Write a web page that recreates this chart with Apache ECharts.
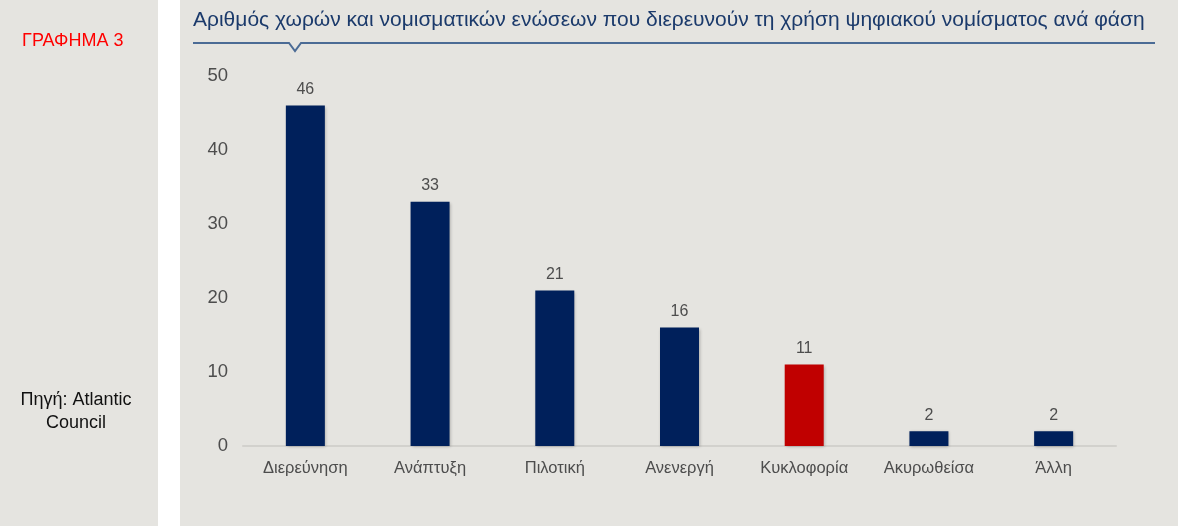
<!DOCTYPE html>
<html>
<head>
<meta charset="utf-8">
<script src="https://cdn.jsdelivr.net/npm/echarts@6/dist/echarts.min.js"></script>
<style>
html,body{margin:0;padding:0;background:#e5e4e0;}
#chart{width:1178px;height:526px;}
</style>
</head>
<body>
<div id="chart"></div>
<script>
// δεδομένα
var categories = ['Διερεύνηση', 'Ανάπτυξη', 'Πιλοτική', 'Ανενεργή', 'Κυκλοφορία', 'Ακυρωθείσα', 'Άλλη'];
var values = [46, 33, 21, 16, 11, 2, 2];
var highlight = ['Κυκλοφορία'];
var yTicks = [0, 10, 20, 30, 40, 50];

var titleText = 'Αριθμός χωρών και νομισματικών ενώσεων που διερευνούν τη χρήση ψηφιακού νομίσματος ανά φάση';
var navy = '#00205b';
var red = '#c00000';
var bg = '#e5e4e0';
var ff = 'Liberation Sans, Arial, sans-serif';

var chart = echarts.init(document.getElementById('chart'));

var barData = [];
for (var i = 0; i < values.length; i++) {
	barData.push({
		value: values[i],
		itemStyle: {color: highlight.indexOf(categories[i]) > -1 ? red : navy}
	});
}

var option = {
	backgroundColor: bg,
	animation: false,
	textStyle: {fontFamily: ff},
	grid: {left: 243, right: 62, top: 76, bottom: 80, containLabel: false},
	xAxis: {
		type: 'category',
		data: categories,
		axisLine: {show: true, lineStyle: {color: '#d2d1cd', width: 2}},
		axisTick: {show: false},
		axisLabel: {color: '#4d4d4d', fontSize: 16.5, margin: 14}
	},
	yAxis: {
		type: 'value',
		min: yTicks[0],
		max: yTicks[yTicks.length - 1],
		interval: 10,
		splitLine: {show: false},
		axisLine: {show: false},
		axisTick: {show: false},
		axisLabel: {color: '#4d4d4d', fontSize: 18.5, margin: 15}
	},
	series: [{
		type: 'bar',
		data: barData,
		barWidth: 39,
		itemStyle: {shadowColor: 'rgba(0,0,0,0.25)', shadowBlur: 3, shadowOffsetX: 1, shadowOffsetY: 1},
		label: {show: true, position: 'top', distance: 8, color: '#4d4d4d', fontSize: 16}
	}],
	graphic: [
		// λευκή λωρίδα ανάμεσα στα δύο πλαίσια
		{type: 'rect', left: 158, top: 0, shape: {width: 22, height: 526}, style: {fill: '#ffffff'}, z: -1},
		{type: 'text', left: 22, top: 32, style: {text: 'ΓΡΑΦΗΜΑ 3', fill: '#ff0000', font: '18px ' + ff}},
		{type: 'text', x: 76, y: 389, style: {text: 'Πηγή: Atlantic\nCouncil', fill: '#111111', align: 'center', lineHeight: 23, font: '18px ' + ff}},
		{type: 'text', left: 193, top: 10, style: {text: titleText, fill: '#1b3a6b', font: '21px ' + ff}},
		{type: 'polyline', shape: {points: [[193, 43], [289, 43], [295, 51], [301, 43], [1155, 43]]}, style: {stroke: '#4b6b95', lineWidth: 2, fill: null}}
	]
};
chart.setOption(option);
</script>
</body>
</html>
